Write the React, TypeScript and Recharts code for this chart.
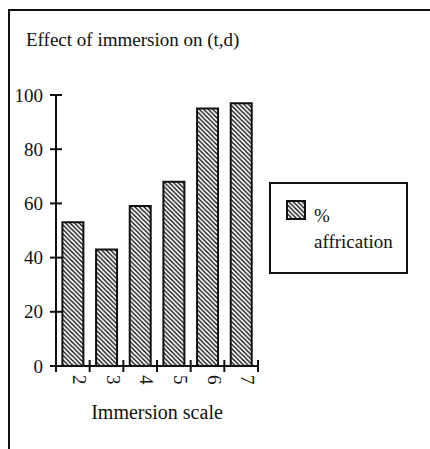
import { BarChart, Bar, XAxis, YAxis, Legend, Label } from 'recharts'

const CATEGORIES = ['2', '3', '4', '5', '6', '7']
const AFFRICATION = [53, 43, 59, 68, 95, 97]
const Y_TICKS = [0, 20, 40, 60, 80, 100]
const SERIES_NAME = '% affrication'

const FONT = '"Liberation Serif", "Times New Roman", serif'
const INK = '#111'

const data = CATEGORIES.map((c, i) => ({ scale: c, value: AFFRICATION[i] }))

// y ticks cross the axis line, label sits to the left
function YTick(props: any) {
  const { x, y, payload } = props
  return (
    <g>
      <line x1={x - 6} x2={x + 6} y1={y} y2={y} stroke={INK} strokeWidth={2} />
      <text x={x - 13} y={y} dy="0.35em" textAnchor="end" fontSize={19} fontFamily={FONT} fill={INK}>
        {payload.value}
      </text>
    </g>
  )
}

// tick marks go on the band edges, labels turned on their side
function XTick(props: any) {
  const { x, y, payload, index } = props
  const half = payload.offset ?? 0
  const last = index === CATEGORIES.length - 1
  return (
    <g>
      <line x1={x - half} x2={x - half} y1={y - 6} y2={y + 6} stroke={INK} strokeWidth={2} />
      {last && <line x1={x + half} x2={x + half} y1={y - 6} y2={y + 6} stroke={INK} strokeWidth={2} />}
      <text transform={`translate(${x},${y + 9}) rotate(90)`} textAnchor="start" fontSize={19} fontFamily={FONT} fill={INK}>
        {payload.value}
      </text>
    </g>
  )
}

function LegendBox() {
  return (
    <svg width={140} height={93} style={{ display: 'block' }}>
      <rect x={1} y={1} width={137} height={90} fill="#fff" stroke={INK} strokeWidth={2} />
      <rect x={18} y={19} width={18} height={18} fill="url(#hatch)" stroke={INK} strokeWidth={2} />
      <text x={45} y={40} fontSize={19} fontFamily={FONT} fill={INK}>%</text>
      <text x={45} y={66} fontSize={19} fontFamily={FONT} fill={INK}>affrication</text>
    </svg>
  )
}

export default function App() {
  return (
    <div style={{ position: 'absolute', left: 0, top: 0, width: 430, height: 449, background: '#fff', overflow: 'hidden' }}>
      <div style={{ position: 'absolute', left: 8, top: 9, width: 430, height: 449, borderTop: `2px solid ${INK}`, borderLeft: `2px solid ${INK}` }} />
      <div style={{ position: 'absolute', left: 26, top: 30, fontFamily: FONT, fontSize: 19, lineHeight: '19px', color: INK, whiteSpace: 'nowrap' }}>
        Effect of immersion on (t,d)
      </div>
      <div style={{ position: 'absolute', left: 0, top: 0 }}>
        <BarChart width={430} height={449} data={data} margin={{ top: 95, right: 172, left: 10, bottom: 27 }} barCategoryGap="19%">
          <defs>
            <pattern id="hatch" patternUnits="userSpaceOnUse" width={4.5} height={4.5}>
              <rect width={4.5} height={4.5} fill="#fff" />
              <path d="M-1,-1 L5.5,5.5 M-1,3.5 L1,5.5 M3.5,-1 L5.5,1" stroke={INK} strokeWidth={1.4} />
            </pattern>
          </defs>
          <XAxis
            dataKey="scale"
            height={56}
            axisLine={{ stroke: INK, strokeWidth: 2 }}
            tickLine={false}
            tickSize={0}
            tickMargin={0}
            interval={0}
            tick={<XTick />}
          >
            <Label value="Immersion scale" position="insideBottom" offset={3} fontSize={20} fontFamily={FONT} fill={INK} />
          </XAxis>
          <YAxis
            width={46}
            domain={[0, 100]}
            ticks={Y_TICKS}
            axisLine={{ stroke: INK, strokeWidth: 2 }}
            tickLine={false}
            tickSize={0}
            tickMargin={0}
            tick={<YTick />}
          />
          <Legend
            align="center"
            verticalAlign="middle"
            content={() => <LegendBox />}
            wrapperStyle={{ left: 269, top: 182, width: 140, height: 93 }}
          />
          <Bar dataKey="value" name={SERIES_NAME} fill="url(#hatch)" stroke={INK} strokeWidth={2} isAnimationActive={false} />
        </BarChart>
      </div>
    </div>
  )
}
